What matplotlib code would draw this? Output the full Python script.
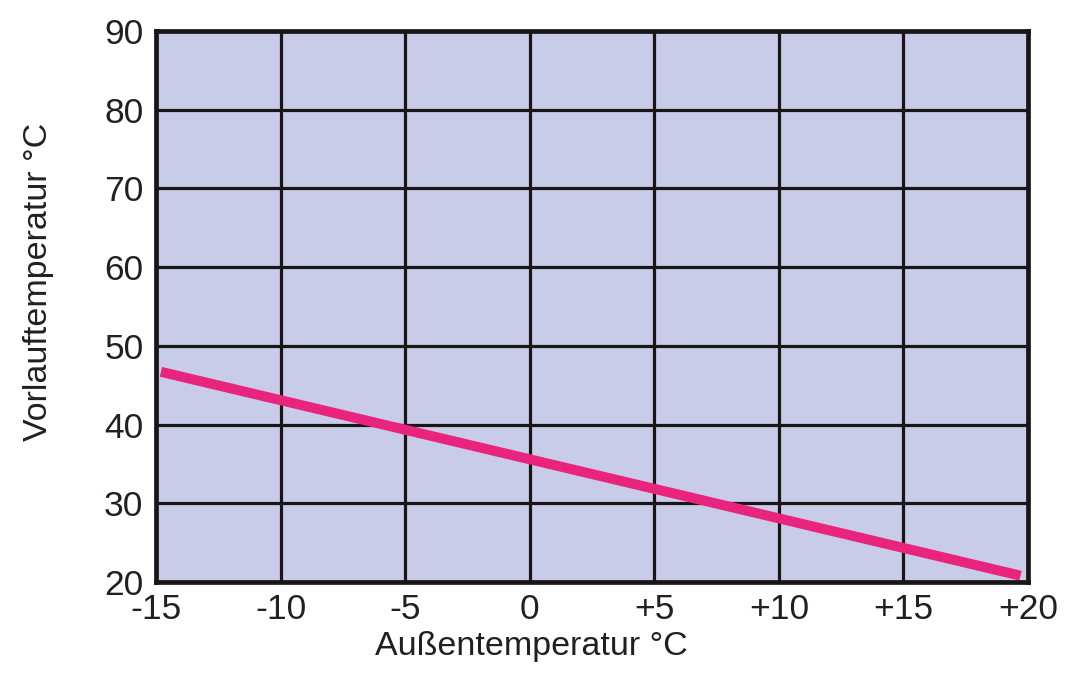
import matplotlib.pyplot as plt

# curve (outdoor temp -> flow temp)
aussen = [-14.8, 19.7]
vorlauf = [46.7, 20.8]

x_ticks = [-15, -10, -5, 0, 5, 10, 15, 20]
x_labels = ["-15", "-10", "-5", "0", "+5", "+10", "+15", "+20"]
y_ticks = [20, 30, 40, 50, 60, 70, 80, 90]
y_labels = ["20", "30", "40", "50", "60", "70", "80", "90"]

plt.rcParams['font.family'] = ['Liberation Sans', 'DejaVu Sans']

fig = plt.figure(figsize=(10.77, 6.81), dpi=100)
ax = fig.add_axes([0.1448, 0.1454, 0.8097, 0.8091])
ax.set_facecolor('#c9cce8')

ax.plot(aussen, vorlauf, color='#e8247c', linewidth=7.2, solid_capstyle='butt', zorder=3)

ax.set_xlim(-15, 20)
ax.set_ylim(20, 90)
ax.set_xticks(x_ticks)
ax.set_xticklabels(x_labels)
ax.set_yticks(y_ticks)
ax.set_yticklabels(y_labels)
ax.grid(color='#1a1618', linewidth=2.3)
ax.set_axisbelow(True)
for s in ax.spines.values():
    s.set_linewidth(3.4)
    s.set_color('#1a1618')
    s.set_zorder(4)

ax.tick_params(length=0, labelsize=25.5, colors='#231f20', pad=8)
ax.tick_params(axis='y', pad=9)
ax.set_xlabel("Außentemperatur °C", fontsize=24.5, color='#231f20')
ax.set_ylabel("Vorlauftemperatur °C", fontsize=24.5, color='#231f20')
ax.xaxis.set_label_coords(0.431, -0.089)
ax.yaxis.set_label_coords(-0.117, 0.544)

fig.savefig('out.png', dpi=100)
